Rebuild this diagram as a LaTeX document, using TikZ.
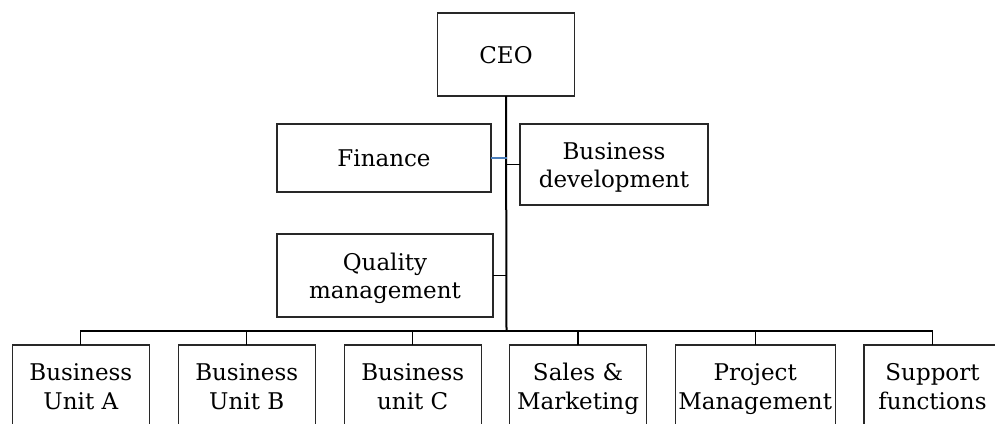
\documentclass[tikz,border=0pt]{standalone}
\usepackage{fontspec}
\setmainfont{DejaVu Serif}
\definecolor{boxline}{RGB}{40,40,40}
\definecolor{finblue}{RGB}{74,126,187}
\newcommand{\mystrut}{\rule[-5.5pt]{0pt}{28.5pt}}
\newcommand{\twoline}[2]{\mystrut #1\\\mystrut #2}
\tikzset{
  orgbox/.style={draw=boxline, line width=1.2pt, fill=white, inner sep=0pt, outer sep=0pt,
    align=center, font=\fontsize{23}{28.5}\selectfont},
  link/.style={draw=black, line width=1.2pt},
  trunk/.style={draw=black, line width=2pt},
  finlink/.style={draw=finblue, line width=2pt}
}
\begin{document}
\begin{tikzpicture}[x=1pt,y=-1pt]
\useasboundingbox (0,0) rectangle (995,423);
\clip (0,0) rectangle (995,423);
\node[orgbox, minimum width=137pt, minimum height=83pt] (ceo) at (506,54.5) {\mystrut CEO};
\node[orgbox, minimum width=214pt, minimum height=68pt] (fin) at (384,158) {\mystrut Finance};
\node[orgbox, minimum width=188pt, minimum height=81pt] (bd) at (614,164.5) {\twoline{Business}{development}};
\node[orgbox, minimum width=216pt, minimum height=83pt] (qm) at (385,275.5) {\twoline{Quality}{management}};
\coordinate (bus) at (506.5,331);
\foreach \n/\x/\w/\a/\b in {ua/80.8/137/Business/Unit A, ub/246.7/137/Business/Unit B, uc/412.7/137/Business/unit C,
  sm/578/137/Sales \&/Marketing, pm/755.2/160/Project/Management, sf/932.5/137/Support/functions}{
  \node[orgbox, minimum width=\w pt, minimum height=82pt] (\n) at (\x,386) {\twoline{\a}{\b}};
}
\draw[trunk] (ceo.south) -- (bus);
\draw[finlink] (fin.east) -- (fin.east -| bus);
\draw[link] (bd.west -| bus) -- (bd.west);
\draw[link] (qm.east) -- (qm.east -| bus);
\foreach \n in {ua,ub,uc,sm,pm,sf}{
  \draw[link] (bus) -| (\n.north);
}
\end{tikzpicture}
\end{document}
